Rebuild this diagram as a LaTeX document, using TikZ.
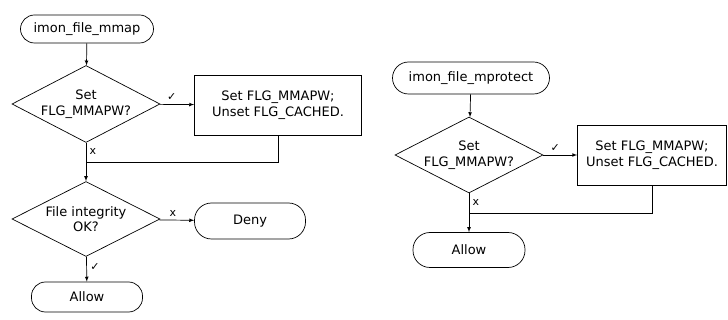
\documentclass[tikz,border=0pt]{standalone}
\usepackage{fontspec}
\setmainfont{DejaVu Sans}
\usepackage{tikz}
\usetikzlibrary{shapes.geometric}
\tikzset{
  term/.style={draw, rounded corners=14pt, minimum height=30pt, minimum width=111pt},
  decision/.style={draw, diamond, shape aspect=2, inner sep=0pt, minimum width=148pt, minimum height=77pt, align=center},
  action/.style={draw, rectangle, minimum height=60pt, align=center, inner sep=2pt},
  flow/.style={->, >=latex},
  tick/.style={font=\fontsize{11}{12}\selectfont},
}

\begin{document}
\begin{tikzpicture}[x=1pt, y=-1pt, line width=0.7pt, font=\fontsize{13}{15.5}\selectfont]
        \useasboundingbox (0,0) rectangle (728,320);
        % imon_file_mmap
        \node[term, minimum width=133pt, minimum height=28pt] (start1) at (87,29) {imon\_file\_mmap};
        \node[decision] (dec1) at (86,104) {Set\\FLG\_MMAPW?};
        \node[action, minimum width=167pt] (act1) at (278,105) {Set FLG\_MMAPW;\\Unset FLG\_CACHED.};
        \coordinate (join1) at (86,162);
        \node[decision, minimum height=75pt] (dec2) at (86,219) {File integrity\\OK?};
        \node[term, minimum height=36pt, rounded corners=17pt] (deny) at (250,221) {Deny};
        \node[term] (allow1) at (87,297) {Allow};
        \draw[flow] (start1) -- (dec1);
        \draw[flow] (dec1) -- node[above, tick, pos=0.35]{✓} (act1);
        \draw (dec1.south) -- node[right, tick, pos=0.45]{x} (join1);
        \draw (act1.south) |- (join1);
        \draw[flow] (join1) -- (dec2);
        \draw[flow] (dec2) -- node[above, tick, pos=0.4]{x} (deny);
        \draw[flow] (dec2) -- node[right, tick, pos=0.4]{✓} (allow1);
        % imon_file_mprotect
        \node[term, minimum width=157pt, minimum height=32pt, rounded corners=16pt] (start2) at (471,78) {imon\_file\_mprotect};
        \node[decision, minimum height=76pt] (dec3) at (469,155) {Set\\FLG\_MMAPW?};
        \node[action, minimum width=149pt] (act2) at (652,155) {Set FLG\_MMAPW;\\Unset FLG\_CACHED.};
        \coordinate (join2) at (469,213);
        \node[term, minimum width=112pt, minimum height=35pt, rounded corners=17pt] (allow2) at (469,250) {Allow};
        \draw[flow] (start2) -- (dec3);
        \draw[flow] (dec3) -- node[above, tick, pos=0.35]{✓} (act2);
        \draw (dec3.south) -- node[right, tick, pos=0.45]{x} (join2);
        \draw (act2.south) |- (join2);
        \draw[flow] (join2) -- (allow2);
    \end{tikzpicture}
\end{document}
